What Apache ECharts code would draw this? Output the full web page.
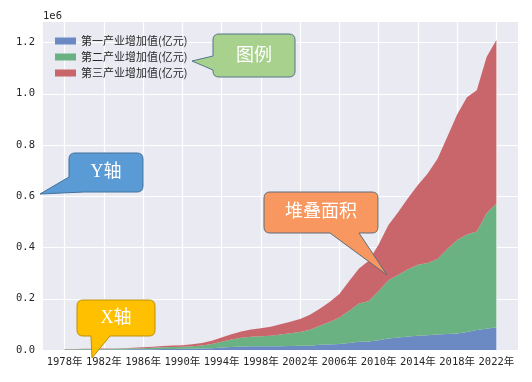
<!DOCTYPE html>
<html>
<head>
<meta charset="utf-8">
<script src="https://cdn.jsdelivr.net/npm/echarts@6/dist/echarts.min.js"></script>
<style>html,body{margin:0;padding:0;background:#fff}#c{width:532px;height:382px}</style>
</head>
<body>
<div id="c"></div>
<script>
const years = [1978,1979,1980,1981,1982,1983,1984,1985,1986,1987,1988,1989,1990,1991,1992,1993,1994,1995,1996,1997,1998,1999,2000,2001,2002,2003,2004,2005,2006,2007,2008,2009,2010,2011,2012,2013,2014,2015,2016,2017,2018,2019,2020,2021,2022];
const primary = [1018.5,1259.1,1359.5,1545.7,1761.7,1960.9,2295.6,2541.7,2764.1,3204.5,3831.2,4228.2,5017.2,5288.8,5800.3,6887.6,9471.8,12020.5,13878.3,14265.2,14618.7,14549.0,14717.4,15502.5,16190.2,16970.2,20904.3,21806.7,23317.0,27674.1,32464.1,33583.8,38430.8,44781.5,49084.6,53028.1,55626.3,57774.6,60139.2,62099.5,64745.2,70473.6,77754.1,83085.5,88345.1];
const secondary = [1755.2,1925.3,2204.7,2269.0,2397.2,2640.2,3105.7,3867.0,4492.6,5251.6,6587.2,7278.0,7717.4,9102.2,11699.5,16454.4,22445.4,28679.5,33835.0,37543.0,39004.2,41033.6,45555.9,49512.3,53896.8,62436.3,73904.3,87598.1,103719.5,125831.4,149003.4,157638.8,191629.8,227038.8,244639.1,261951.6,277282.8,281338.9,295427.8,331580.5,364835.2,380670.6,384255.3,450904.5,483164.5];
const tertiary = [905.1,915.2,1023.4,1120.1,1214.3,1421.9,1877.6,2607.4,3144.4,3741.7,4921.8,5722.6,6140.2,7815.5,9687.2,12331.4,16710.6,20641.9,24099.2,27904.3,31558.3,34934.5,39897.9,45700.0,51035.9,57756.0,66650.9,77430.0,91759.7,115784.6,136823.9,157060.0,182061.9,216123.6,244856.2,277983.5,310654.0,349744.7,390828.1,438355.9,489700.8,535371.0,551973.7,609679.7,638697.6];
const seriesNames = ['第一产业增加值(亿元)','第二产业增加值(亿元)','第三产业增加值(亿元)'];
const xTickYears = [1978,1982,1986,1990,1994,1998,2002,2006,2010,2014,2018,2022];

const colors = ['#6B8AC3','#6BB282','#C9666B'];
const monoFont = "'DejaVu Sans Mono','Noto Sans CJK SC',monospace";
const cjk = "'Noto Sans CJK SC',sans-serif";
const calloutFont = "'Liberation Serif','Noto Sans CJK SC',serif";

const calloutPaths = {
  cLegend: 'M219 34 L289 34 Q295 34 295 40 L295 71 Q295 77 289 77 L219 77 Q213 77 213 71 L213 70 L192 61 L213 56 L213 40 Q213 34 219 34 Z',
  cY: 'M75 153 L137 153 Q143 153 143 159 L143 186 Q143 192 137 192 L84 192 L40 194 L69 177 L69 159 Q69 153 75 153 Z',
  cArea: 'M270 192 L372 192 Q378 192 378 198 L378 227 Q378 233 372 233 L359 233 L387 275 L330 233 L270 233 Q264 233 264 227 L264 198 Q264 192 270 192 Z',
  cX: 'M83 300 L149 300 Q155 300 155 306 L155 330 Q155 336 149 336 L110 336 L92 358 L91 336 L83 336 Q77 336 77 330 L77 306 Q77 300 83 300 Z'
};
Object.keys(calloutPaths).forEach(k => {
  echarts.graphic.registerShape(k, echarts.graphic.extendPath(calloutPaths[k], {}));
});

const chart = echarts.init(document.getElementById('c'), null, {renderer:'canvas'});
// value first so ECharts stacks the value dimension (y), year second (x)
const mk = (arr) => years.map((y,i)=>[arr[i], y]);
const seriesData = [primary, secondary, tertiary];

function callout(type, fill, stroke, text, cx, cy) {
  return [
    {type:type, style:{fill:fill, stroke:stroke, lineWidth:1}, z:100},
    {type:'text', x:cx, y:cy, style:{text:text, fill:'#fff', font:'18px ' + calloutFont, textAlign:'center', textVerticalAlign:'middle'}, z:101}
  ];
}

const option = {
  backgroundColor:'#ffffff',
  animation:false,
  grid:{left:43, right:14, top:22, bottom:32, show:true, backgroundColor:'#EAEAF2', borderWidth:0},
  legend:{
    orient:'vertical', left:50, top:30, itemWidth:21, itemHeight:7, itemGap:4,
    icon:'rect', data:seriesNames,
    textStyle:{fontFamily:cjk, fontSize:11, color:'#262626', lineHeight:12}
  },
  xAxis:{
    type:'value', min:1975.8, max:2024.2,
    axisLine:{show:false},
    axisTick:{show:false, customValues:xTickYears},
    axisLabel:{customValues:xTickYears, formatter:v=>v+'年', fontFamily:monoFont, fontSize:10.5, color:'#262626', margin:7},
    splitLine:{show:true, lineStyle:{color:'#ffffff', width:1.2}}
  },
  yAxis:{
    type:'value', min:0, max:1280000, interval:200000,
    axisLine:{show:false}, axisTick:{show:false},
    axisLabel:{formatter:v=>(v/1e6).toFixed(1), fontFamily:monoFont, fontSize:10.5, color:'#262626', margin:8, showMaxLabel:false},
    splitLine:{show:true, lineStyle:{color:'#ffffff', width:1.2}, showMaxLine:false}
  },
  series: seriesNames.map((n,i)=>({
    name:n, type:'line', stack:'total', data:mk(seriesData[i]), encode:{x:1, y:0}, symbol:'none',
    lineStyle:{width:0}, areaStyle:{color:colors[i], opacity:1}, itemStyle:{color:colors[i]}, z:2+i
  })),
  graphic:[
    {type:'text', x:43, y:11, style:{text:'1e6', font:"10.5px " + monoFont, fill:'#262626'}},
    ...callout('cLegend', '#A9D18E', '#52768A', '图例', 254, 56),
    ...callout('cY', '#5B9BD5', '#41719C', 'Y轴', 106, 172),
    ...callout('cArea', '#F8975F', '#5E6C7C', '堆叠面积', 321, 212),
    ...callout('cX', '#FFC000', '#B8900A', 'X轴', 116, 318)
  ]
};
chart.setOption(option);
</script>
</body>
</html>
